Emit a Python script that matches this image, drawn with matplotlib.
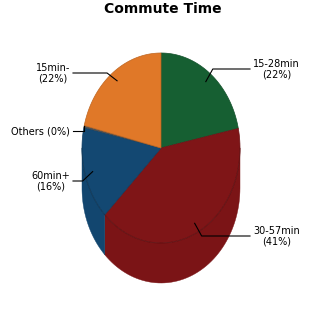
# Commute Time - a 3D-looking pie chart drawn with matplotlib patches
import numpy as np
import matplotlib.pyplot as plt
from matplotlib.patches import Polygon

# data (clockwise from 12 o'clock)
labels = ['15-28min', '30-57min', '60min+', 'Others', '15min-']
values = [21.7, 40.9, 15.9, 0.3, 21.2]
percents = [22, 41, 16, 0, 22]
colors = ['#165f32', '#7f1517', '#134872', '#555555', '#e07828']

# geometry in pixel units
cx, cy = 161, 148      # centre of the top face
a, b = 79, 95          # semi axes of the top face
depth = 40             # thickness of the pie

fig = plt.figure(figsize=(3.25, 3.25), dpi=100)
ax = fig.add_axes([0, 0, 1, 1])
ax.set_xlim(0, 325)
ax.set_ylim(325, 0)
ax.axis('off')


def pt(theta, r=1.0, dz=0.0):
    t = np.radians(theta)
    return cx + r * a * np.cos(t), cy - r * b * np.sin(t) + dz


def darker(c, f):
    rgb = np.array(plt.matplotlib.colors.to_rgb(c))
    return tuple(rgb * f)


# slice angles
fracs = np.array(values) / sum(values)
starts = 90 - np.concatenate([[0], np.cumsum(fracs)[:-1]]) * 360
ends = starts - fracs * 360

# side walls (only the front half, angles between -180 and 0)
for s, e, c in zip(starts, ends, colors):
    lo, hi = min(s, e), max(s, e)
    for shift in (0, -360, 360):
        l, h = lo + shift, hi + shift
        l2, h2 = max(l, -180), min(h, 0)
        if h2 > l2:
            th = np.linspace(l2, h2, 60)
            top = [pt(t) for t in th]
            bot = [pt(t, dz=depth) for t in th[::-1]]
            ax.add_patch(Polygon(top + bot, closed=True, facecolor=darker(c, 0.97),
                                 edgecolor=darker(c, 0.97), lw=0.3, zorder=1))

# top faces
for s, e, c in zip(starts, ends, colors):
    th = np.linspace(s, e, 80)
    poly = [(cx, cy)] + [pt(t) for t in th]
    ax.add_patch(Polygon(poly, closed=True, facecolor=c,
                         edgecolor=darker(c, 0.85), lw=0.5, zorder=2))

# faint outline of the top face front edge
th = np.linspace(-180, 0, 100)
xs, ys = zip(*[pt(t) for t in th])
ax.plot(xs, ys, color='black', alpha=0.12, lw=0.8, zorder=3)

# labels with leader lines
label_y = [69, 236, 181, 131, 73]
for i, (lab, p) in enumerate(zip(labels, percents)):
    mid = (starts[i] + ends[i]) / 2
    r = 1.0 if values[i] < 1 else 0.9
    ax_x, ax_y = pt(mid, r)
    right = np.cos(np.radians(mid)) > 0
    if lab == 'Others':
        txt = '%s (%d%%)' % (lab, p)
        ex = ax_x
    else:
        txt = '%s\n(%d%%)' % (lab, p)
        ex = ax_x + (7 if right else -10)
    ly = label_y[i]
    tx = 250 if right else 73
    ax.plot([ax_x, ex, tx], [ax_y, ly, ly], color='black', lw=0.8, zorder=4)
    ax.text(tx + (3 if right else -3), ly, txt, ha='left' if right else 'right',
            va='center', multialignment='center', fontsize=7, linespacing=1.1)

ax.text(163, 9, 'Commute Time', ha='center', va='center',
        fontsize=10, fontweight='bold')

fig.savefig('out.png', dpi=100)
